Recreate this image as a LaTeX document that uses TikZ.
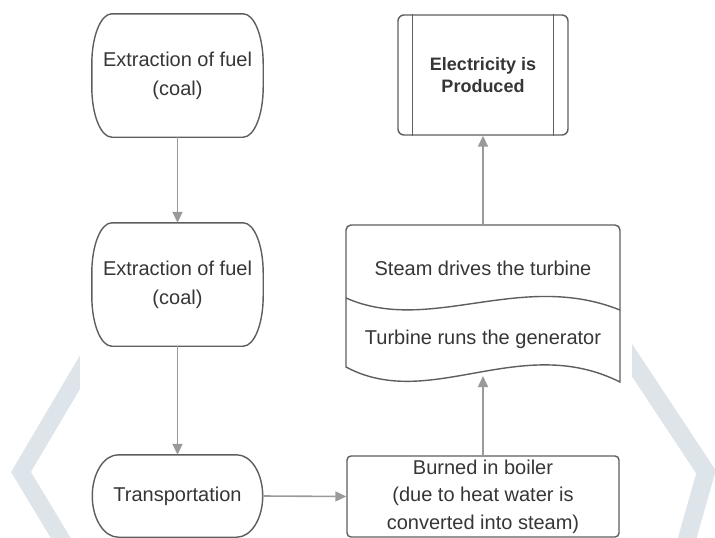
\documentclass[tikz,border=0pt]{standalone}
\usepackage{fontspec}
\setmainfont{Liberation Sans}
\usetikzlibrary{arrows.meta,calc}
\definecolor{txt}{HTML}{363636}
\definecolor{edge}{HTML}{5E5E5E}
\definecolor{arr}{HTML}{9A9A9A}
\definecolor{wm}{HTML}{DDE4EA}
\newcommand\ellipbox[3]{%
  \draw[outline] ([xshift=#2]#1.north west) -- ([xshift=-#2]#1.north east)
    arc[start angle=90,end angle=0,x radius=#2,y radius=#3]
    -- ([yshift=#3]#1.south east)
    arc[start angle=0,end angle=-90,x radius=#2,y radius=#3]
    -- ([xshift=#2]#1.south west)
    arc[start angle=270,end angle=180,x radius=#2,y radius=#3]
    -- ([yshift=-#3]#1.north west)
    arc[start angle=180,end angle=90,x radius=#2,y radius=#3] -- cycle;}
\begin{document}
\begin{tikzpicture}[x=1pt,y=-1pt,
  lbl/.style={inner sep=0pt, align=center, text=txt, font=\fontsize{20}{29}\selectfont},
  outline/.style={draw=edge, line width=1.4pt},
  flow/.style={draw=arr, line width=1.6pt, -{Triangle[length=11pt,width=10pt]}},
]
\useasboundingbox (0,0) rectangle (715,538);
\fill[white] (0,0) rectangle (715,538);
% watermark chevrons
\draw[wm, line width=17pt] (96,345) -- (21,472) -- (74,560);
\draw[wm, line width=18pt] (620,342) -- (706,472) -- (681,560);
\fill[white] (80,0) rectangle (632,538);

% left column
\node[lbl, minimum width=171pt, minimum height=123pt] (n1) at (177.5,75.5) {Extraction of fuel\\(coal)};
\ellipbox{n1}{20pt}{50pt}
\node[lbl, minimum width=171pt, minimum height=123pt] (n2) at (177.5,284.5) {Extraction of fuel\\(coal)};
\ellipbox{n2}{20pt}{50pt}
\node[lbl, minimum width=170pt, minimum height=82pt] (n3) at (177.5,496) {Transportation};
\ellipbox{n3}{26pt}{41pt}

% right column
\node[lbl, font=\fontsize{20}{27.5}\selectfont, minimum width=272pt, minimum height=81pt,
      draw=edge, line width=1.4pt, rounded corners=4pt] (n4) at (483,496.5)
      {Burned in boiler\\(due to heat water is\\converted into steam)};

\node[minimum width=274pt, minimum height=152pt, inner sep=0pt] (n5) at (483,301) {};
\draw[outline] (346,367) -- (346,230) arc[start angle=180,end angle=90,radius=5pt]
   -- (615,225) arc[start angle=90,end angle=0,radius=5pt]
   -- (620,382) .. controls (520,332) and (430,412) .. (346,367) -- cycle;
\draw[outline] (346,298) .. controls (430,335) and (520,270) .. (620,310);
\node[lbl, anchor=base] (n5a) at (483,275) {Steam drives the turbine};
\node[lbl, anchor=base] (n5b) at (483,344) {Turbine runs the generator};
\coordinate (docb) at (483,376);

\node[lbl, font=\bfseries\fontsize{18}{22}\selectfont, minimum width=170pt, minimum height=120pt,
      draw=edge, line width=1.4pt, rounded corners=6pt] (n6) at (483,75) {Electricity is\\Produced};
\draw[outline] ([xshift=15pt]n6.north west) -- ([xshift=15pt]n6.south west);
\draw[outline] ([xshift=-15pt]n6.north east) -- ([xshift=-15pt]n6.south east);

% connectors
\draw[flow] (n1.south) -- (n2.north);
\draw[flow] (n2.south) -- (n3.north);
\draw[flow] (n3.east) -- (n4.west);
\draw[flow] (n4.north) -- (docb);
\draw[flow] (n5.north) -- (n6.south);
\end{tikzpicture}
\end{document}
